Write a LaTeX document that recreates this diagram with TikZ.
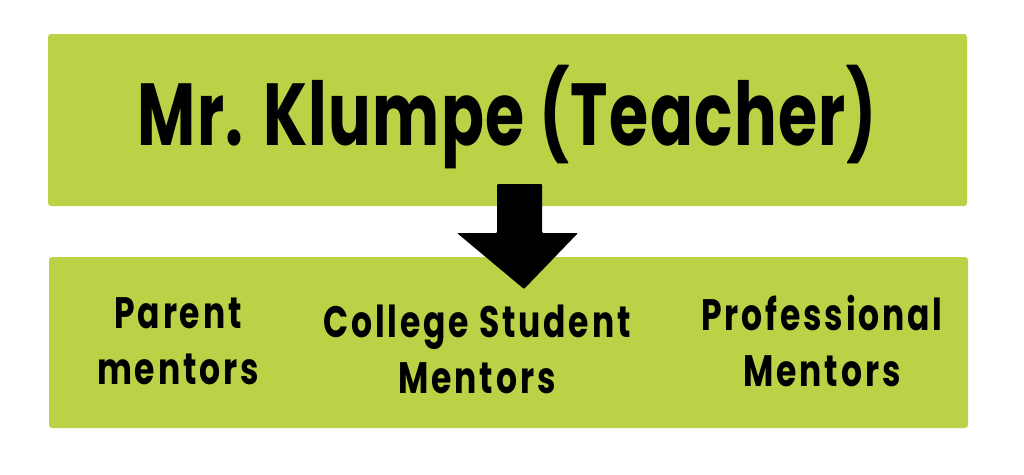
\documentclass[tikz,border=0pt]{standalone}
\usepackage{fontspec}
\newfontfamily\titlefont[FakeStretch=0.72, LetterSpace=1.5]{Poppins}
\newfontfamily\mentorfont[FakeStretch=0.75, LetterSpace=6.5]{Poppins}
\usepackage{tikz}
\usetikzlibrary{positioning,calc}

\definecolor{boxgreen}{RGB}{188,210,70}

\begin{document}
\begin{tikzpicture}[x=1pt, y=-1pt]
    % Fix the page size
    \useasboundingbox (0,0) rectangle (1024,474);

    % Define the styles
    \tikzset{
        greenbox/.style={fill=boxgreen, rounded corners=3pt, inner sep=0pt,
            minimum width=919pt, minimum height=172pt},
        mentor/.style={align=center, inner sep=0pt,
            font=\mentorfont\bfseries\fontsize{44}{56}\selectfont}
    }

    % Draw the two boxes
    \node[greenbox] (teacherbox) at (507.5,120) {};
    \node[greenbox, minimum height=171pt] (mentorbox) at (508.5,342.5) {};

    % Add the teacher
    \node[anchor=base, inner sep=0pt, font=\titlefont\bfseries\fontsize{88}{100}\selectfont]
        (teacher) at (507.5,145) {Mr. Klumpe (Teacher)};

    % Add the mentors
    \node[mentor] (parent) at (178,341) {Parent\\mentors};
    \node[mentor] (college) at (477,349) {College Student\\Mentors};
    \node[mentor] (professional) at (822,341.5) {Professional\\Mentors};

    % Draw the block arrow
    \coordinate (arrowtop) at (519.5,184);
    \fill[black, rounded corners=1pt] ($(arrowtop)+(-22.5,0)$) -- ($(arrowtop)+(22.5,0)$)
        -- ($(arrowtop)+(22.5,49)$) -- ($(arrowtop)+(58.5,49)$)
        -- ($(arrowtop)+(4.5,105)$) -- ($(arrowtop)+(-62.5,49)$)
        -- ($(arrowtop)+(-22.5,49)$) -- cycle;
\end{tikzpicture}
\end{document}
